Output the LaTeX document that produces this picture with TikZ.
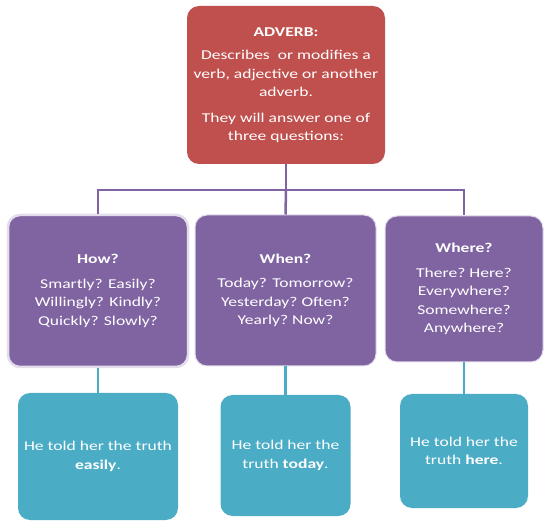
\documentclass[tikz,border=0pt]{standalone}
\usepackage{fontspec}
\setmainfont{Carlito}[FakeStretch=1.3]
\definecolor{redbox}{HTML}{C0504D}
\definecolor{purplebox}{HTML}{8064A2}
\definecolor{tealbox}{HTML}{4BACC6}
\definecolor{glow}{HTML}{E2DCEB}
\begin{document}
\begin{tikzpicture}[x=1pt,y=-1pt,
  basebox/.style={rounded corners=12pt, text=white, align=center, inner sep=0pt,
    font=\fontsize{13.5}{18.5}\selectfont},
  topbox/.style={basebox, fill=redbox},
  qbox/.style={basebox, fill=purplebox, draw=glow, line width=1pt},
  exbox/.style={basebox, fill=tealbox},
  purpleline/.style={draw=purplebox, line width=2.5pt},
  tealline/.style={draw=tealbox, line width=2.5pt}]
\useasboundingbox (0,0) rectangle (550,524);

\node[topbox, minimum width=198pt, minimum height=158pt] (top) at (286,85)
  {\textbf{ADVERB:}\\[5pt]Describes\ \ or modifies a\\verb, adjective or another\\adverb.\\[7pt]They will answer one of\\three questions:};

\node[qbox, draw=glow, line width=2.5pt, minimum width=180pt, minimum height=152pt] (how) at (98,291)
  {\textbf{How?}\\[6pt]Smartly? Easily?\\Willingly? Kindly?\\Quickly? Slowly?};
\node[qbox, minimum width=181pt, minimum height=151pt] (when) at (285.5,290.5)
  {\textbf{When?}\\[6pt]Today? Tomorrow?\\Yesterday?\ Often?\\Yearly?\ Now?};
\node[qbox, minimum width=158pt, minimum height=146pt] (where) at (464,289)
  {\textbf{Where?}\\[6pt]There?\ Here?\\Everywhere?\\Somewhere?\\Anywhere?};

\node[exbox, minimum width=160pt, minimum height=127pt] (ex1) at (98,456.5)
  {He told her the truth\\\textbf{easily}.};
\node[exbox, minimum width=130pt, minimum height=121pt] (ex2) at (285.5,455.5)
  {He told her the\\truth \textbf{today}.};
\node[exbox, minimum width=128pt, minimum height=114pt] (ex3) at (464,451)
  {He told her the\\truth \textbf{here}.};

\coordinate (hub) at (286,190);
\draw[purpleline] (top.south) -- (hub);
\draw[purpleline] (how.north) |- (hub) -| (where.north);
\draw[purpleline] (hub) -- (when.north);

\draw[tealline] (how.south) -- (ex1.north);
\draw[tealline] (when.south) -- (ex2.north);
\draw[tealline] (where.south) -- (ex3.north);
\end{tikzpicture}
\end{document}
